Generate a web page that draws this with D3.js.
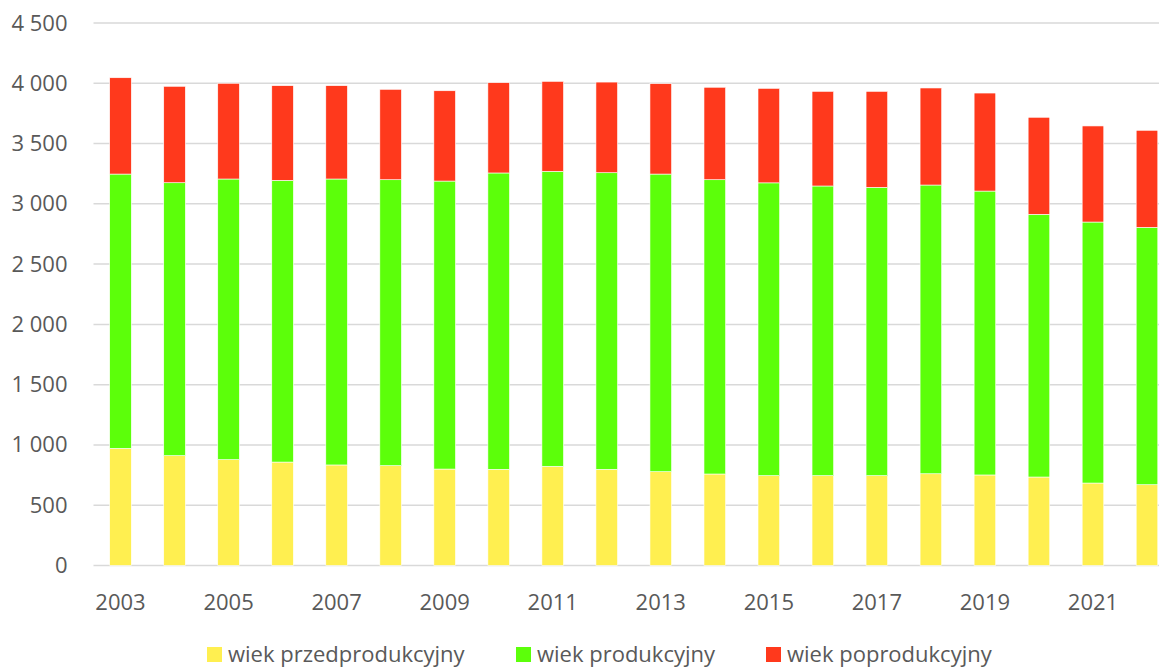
<!DOCTYPE html>
<html>
<head>
<meta charset="utf-8">
<script src="https://cdn.jsdelivr.net/npm/d3@7"></script>
<style>
  html, body { margin: 0; padding: 0; background: #fff; }
  svg { display: block; font-family: "Open Sans", "Noto Sans", sans-serif; }
</style>
</head>
<body>
<svg id="chart" width="1159" height="669"></svg>
<script>
// Ludność według ekonomicznych grup wieku (w tys.), 2003–2022
const years = [2003, 2004, 2005, 2006, 2007, 2008, 2009, 2010, 2011, 2012,
               2013, 2014, 2015, 2016, 2017, 2018, 2019, 2020, 2021, 2022];
const przedprodukcyjny = [972, 911, 878, 858, 834, 828, 800, 798, 823, 798,
                          778, 759, 745, 745, 745, 761, 751, 734, 684, 670];
const produkcyjny = [2275, 2264, 2328, 2337, 2372, 2372, 2389, 2458, 2447, 2460,
                     2469, 2441, 2429, 2403, 2392, 2395, 2355, 2179, 2165, 2135];
const poprodukcyjny = [799, 800, 794, 785, 774, 750, 749, 749, 746, 752,
                       750, 767, 784, 785, 796, 805, 813, 805, 797, 805];
const seriesNames = ["wiek przedprodukcyjny", "wiek produkcyjny", "wiek poprodukcyjny"];
const seriesColors = ["#FFEF50", "#5CFF0A", "#FF391C"];
const yTicks = [0, 500, 1000, 1500, 2000, 2500, 3000, 3500, 4000, 4500];
const xTickYears = [2003, 2005, 2007, 2009, 2011, 2013, 2015, 2017, 2019, 2021];

const svg = d3.select("#chart");
const plot = { left: 93.5, right: 1174, top: 23, bottom: 565.5 };

const rows = years.map((yr, i) => ({
  year: yr,
  [seriesNames[0]]: przedprodukcyjny[i],
  [seriesNames[1]]: produkcyjny[i],
  [seriesNames[2]]: poprodukcyjny[i]
}));
const stacked = d3.stack().keys(seriesNames)(rows);

const x = d3.scaleBand().domain(years).range([plot.left, plot.right]).paddingInner(0.6).paddingOuter(0.3);
const y = d3.scaleLinear().domain([0, 4500]).range([plot.bottom, plot.top]);

const fmt = v => d3.format(",")(v).replace(/,/g, " ");

// siatka pozioma
svg.append("g").selectAll("line").data(yTicks).join("line")
  .attr("x1", plot.left).attr("x2", 1159)
  .attr("y1", d => y(d)).attr("y2", d => y(d))
  .attr("stroke", "#d9d9d9").attr("stroke-width", 1.5);

// oś Y
const yAxis = svg.append("g").attr("transform", `translate(${plot.left - 26},0)`)
  .call(d3.axisLeft(y).tickValues(yTicks).tickFormat(fmt).tickSize(0).tickPadding(0));
yAxis.select(".domain").remove();
yAxis.selectAll("text").attr("font-size", 22).attr("fill", "#595959")
  .attr("font-family", "'Open Sans', 'Noto Sans', sans-serif");

// słupki skumulowane
svg.append("g").selectAll("g").data(stacked).join("g")
  .attr("fill", (d, i) => seriesColors[i])
  .selectAll("rect").data(d => d).join("rect")
  .attr("x", d => x(d.data.year))
  .attr("width", x.bandwidth())
  .attr("y", d => y(d[1]))
  .attr("height", d => y(d[0]) - y(d[1]))
  .attr("stroke", "#ffffff").attr("stroke-width", 0.6);

// oś X
const xAxis = svg.append("g").attr("transform", `translate(0,${plot.bottom + 29})`)
  .call(d3.axisBottom(x).tickValues(xTickYears).tickSize(0).tickPadding(0));
xAxis.select(".domain").remove();
xAxis.selectAll("text").attr("font-size", 22).attr("fill", "#595959")
  .attr("font-family", "'Open Sans', 'Noto Sans', sans-serif");

// legenda
const legendX = [207, 516, 766];
const legend = svg.append("g");
seriesNames.forEach((name, i) => {
  const g = legend.append("g").attr("transform", `translate(${legendX[i]},647)`);
  g.append("rect").attr("width", 15).attr("height", 15).attr("fill", seriesColors[i]);
  g.append("text").attr("x", 21).attr("y", 15)
    .attr("font-size", 22).attr("fill", "#595959").text(name);
});
</script>
</body>
</html>
